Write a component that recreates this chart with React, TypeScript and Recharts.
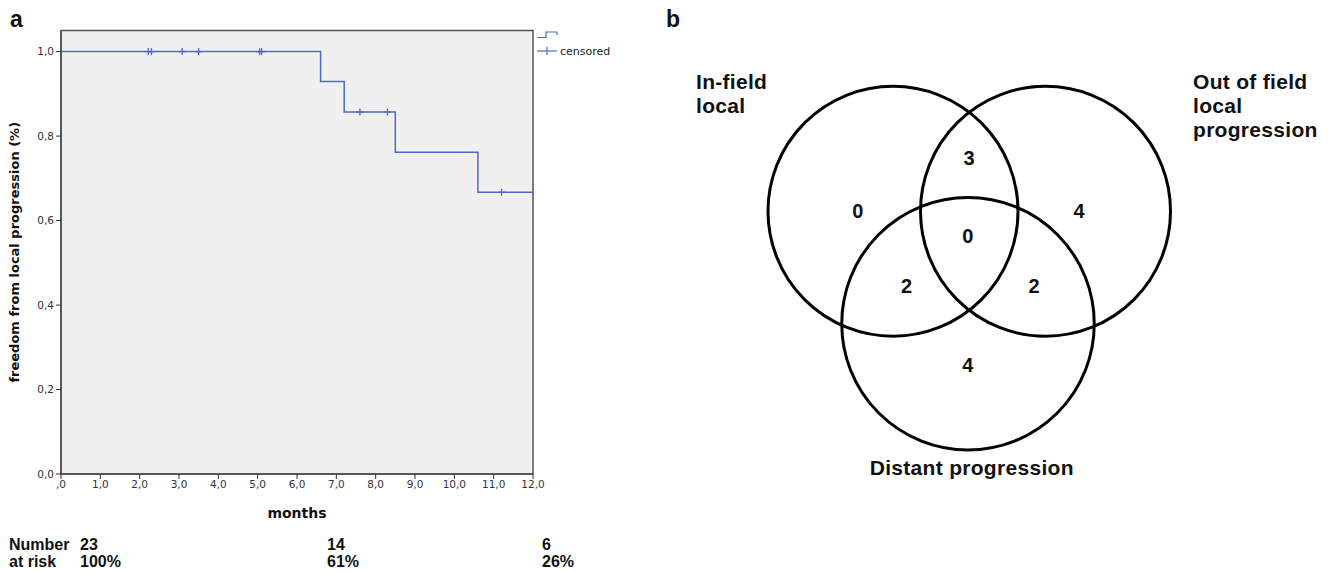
import React from 'react';
import {
  ComposedChart, Line, Scatter, XAxis, YAxis, ReferenceArea, Legend, ScatterChart,
} from 'recharts';

// panel a: Kaplan-Meier, freedom from local progression
const stepMonths = [0, 6.6, 7.2, 8.5, 10.6, 12];
const stepSurvival = [1, 0.929, 0.857, 0.762, 0.667, 0.667];
const censoredMonths = [2.22, 2.3, 3.08, 3.5, 5.05, 5.1, 7.6, 8.3, 11.2];
const censoredSurvival = [1, 1, 1, 1, 1, 1, 0.857, 0.857, 0.667];
const monthTicks = [0, 1, 2, 3, 4, 5, 6, 7, 8, 9, 10, 11, 12];
const survivalTicks = [0, 0.2, 0.4, 0.6, 0.8, 1.0];
const riskCounts = ['23', '14', '6'];
const riskPercents = ['100%', '61%', '26%'];

// panel b: Venn of progression sites (circle radius = 1 unit)
const setNames = [['In-field', 'local'], ['Out of field', 'local', 'progression'], ['Distant progression']];
const setLabelX = [-2.176, 1.8, 0.03];
const setLabelY = [1.288, 1.288, -1.8];
const setLabelAnchor = ['start', 'start', 'middle'];
const circleX = [-0.6, 0.62, 0];
const circleY = [0.31, 0.31, -0.59];
const circleR = [1, 1, 1.01];
const regionCounts = [0, 3, 4, 0, 2, 2, 4];
const regionX = [-0.88, 0.01, 0.89, 0, -0.49, 0.53, 0];
const regionY = [0.31, 0.74, 0.31, 0.11, -0.29, -0.29, -0.92];

const BLUE = '#4b6cc1';
const AXIS_FONT = '"DejaVu Sans", Verdana, sans-serif';
const BOLD_FONT = '"Liberation Sans", Arial, sans-serif';

const kmData = stepMonths.map((m, i) => ({ x: m, y: stepSurvival[i] }));
const censData = censoredMonths.map((m, i) => ({ x: m, y: censoredSurvival[i] }));

const commaFmt = (v: number) => v.toFixed(1).replace('.', ',');
const monthFmt = (v: number) => (v === 0 ? ',0' : commaFmt(v));

const Cross = (p: any) => (
  <g stroke={BLUE} strokeWidth={1.3}>
    <line x1={p.cx - 3.5} x2={p.cx + 3.5} y1={p.cy} y2={p.cy} />
    <line x1={p.cx} x2={p.cx} y1={p.cy - 3.5} y2={p.cy + 3.5} />
  </g>
);

const KmLegend = () => (
  <svg width={90} height={30} style={{ display: 'block' }}>
    <path d="M2,7.5 H11 V2 H22 V5" fill="none" stroke={BLUE} strokeWidth={1.2} />
    <line x1={2} x2={22} y1={21} y2={21} stroke={BLUE} strokeWidth={1.2} />
    <line x1={12} x2={12} y1={17} y2={25} stroke={BLUE} strokeWidth={1.2} />
    <text x={25} y={21} dominantBaseline="central" fontSize={11} fill="#222" fontFamily={AXIS_FONT}>
      censored
    </text>
  </svg>
);

const KaplanMeier = () => {
  const xAxisHeight = 44;
  return (
    <ComposedChart
      width={620}
      height={571}
      margin={{ top: 30.5, right: 87, bottom: 97 - xAxisHeight, left: 0 }}
    >
      <XAxis
        type="number"
        dataKey="x"
        domain={[0, 12]}
        ticks={monthTicks}
        tickFormatter={monthFmt}
        height={xAxisHeight}
        tickSize={5}
        tickMargin={2}
        stroke="#333"
        tick={{ fill: '#333', fontSize: 10.5, fontFamily: AXIS_FONT }}
        label={{
          value: 'months', position: 'insideBottom', offset: 0,
          style: { fontSize: 14, fontWeight: 'bold', fill: '#111', fontFamily: AXIS_FONT },
        }}
      />
      <YAxis
        type="number"
        dataKey="y"
        domain={[0, 1.05]}
        ticks={survivalTicks}
        tickFormatter={commaFmt}
        width={61}
        tickSize={5}
        tickMargin={2}
        stroke="#333"
        tick={{ fill: '#333', fontSize: 10.5, fontFamily: AXIS_FONT }}
        label={{
          value: 'freedom from local progression (%)', angle: -90, position: 'insideLeft', offset: 14,
          style: { textAnchor: 'middle', fontSize: 13, fontWeight: 'bold', fill: '#111', fontFamily: AXIS_FONT },
        }}
      />
      <ReferenceArea x1={0} x2={12} y1={0} y2={1.05} fill="#f0f0f0" fillOpacity={1} stroke="#555" strokeWidth={1.5} />
      <Line
        data={kmData}
        dataKey="y"
        type="stepAfter"
        stroke={BLUE}
        strokeWidth={1.5}
        dot={false}
        isAnimationActive={false}
      />
      <Scatter data={censData} dataKey="y" shape={Cross} isAnimationActive={false} />
      <Legend
        layout="horizontal"
        align="center"
        verticalAlign="middle"
        content={() => <KmLegend />}
        wrapperStyle={{ left: 535, top: 30, width: 90, height: 30 }}
      />
    </ComposedChart>
  );
};

const VENN_W = 696;
const VENN_H = 571;
const PX = 125; // pixels per unit
const ORIGIN_X = 328;
const ORIGIN_Y = 250;

const Venn = () => {
  const circles = circleX.map((x, i) => ({ x, y: circleY[i], r: circleR[i] }));
  const regions = regionX.map((x, i) => ({ x, y: regionY[i], n: regionCounts[i] }));
  const labels = setLabelX.map((x, i) => ({ x, y: setLabelY[i], lines: setNames[i], anchor: setLabelAnchor[i] }));
  const xDomain = [-ORIGIN_X / PX, (VENN_W - ORIGIN_X) / PX];
  const yDomain = [-(VENN_H - ORIGIN_Y) / PX, ORIGIN_Y / PX];
  const numStyle = { fontFamily: BOLD_FONT, fontWeight: 'bold' as const, fontSize: 20, letterSpacing: 0.4 };
  const labelStyle = { fontFamily: BOLD_FONT, fontWeight: 'bold' as const, fontSize: 21, letterSpacing: 0.3 };
  return (
    <ScatterChart width={VENN_W} height={VENN_H} margin={{ top: 0, right: 0, bottom: 0, left: 0 }}>
      <XAxis type="number" dataKey="x" domain={xDomain} hide allowDataOverflow />
      <YAxis type="number" dataKey="y" domain={yDomain} hide allowDataOverflow />
      <Scatter
        data={circles}
        isAnimationActive={false}
        shape={(p: any) => (
          <circle cx={p.cx} cy={p.cy} r={p.payload.r * PX} fill="none" stroke="#000" strokeWidth={3} />
        )}
      />
      <Scatter
        data={regions}
        isAnimationActive={false}
        shape={(p: any) => (
          <text x={p.cx} y={p.cy} textAnchor="middle" dominantBaseline="central" fill="#111" style={numStyle}>
            {p.payload.n}
          </text>
        )}
      />
      <Scatter
        data={labels}
        isAnimationActive={false}
        shape={(p: any) => (
          <text x={p.cx} y={p.cy} textAnchor={p.payload.anchor} fill="#111" style={labelStyle}>
            {p.payload.lines.map((line: string, i: number) => (
              <tspan key={line} x={p.cx} dy={i === 0 ? 0 : 24}>{line}</tspan>
            ))}
          </text>
        )}
      />
    </ScatterChart>
  );
};

const riskColumns = [80, 327, 542];

export default function App() {
  return (
    <div style={{ position: 'absolute', left: 0, top: 0, width: 1336, height: 571, background: '#fff' }}>
      <div style={{ position: 'absolute', left: 0, top: 0 }}>
        <KaplanMeier />
      </div>
      <div style={{ position: 'absolute', left: 640, top: 0 }}>
        <Venn />
      </div>
      <svg
        width={1336}
        height={571}
        style={{ position: 'absolute', left: 0, top: 0, pointerEvents: 'none' }}
        fontFamily={BOLD_FONT}
        fontWeight="bold"
        fill="#111"
      >
        <text x={10} y={27} fontSize={23}>a</text>
        <text x={666} y={27} fontSize={23}>b</text>
        <text x={9} y={550} fontSize={16}>Number</text>
        <text x={9} y={566.5} fontSize={16}>at risk</text>
        {riskCounts.map((c, i) => (
          <text key={'c' + i} x={riskColumns[i]} y={550} fontSize={16}>{c}</text>
        ))}
        {riskPercents.map((c, i) => (
          <text key={'p' + i} x={riskColumns[i]} y={566.5} fontSize={16}>{c}</text>
        ))}
      </svg>
    </div>
  );
}
